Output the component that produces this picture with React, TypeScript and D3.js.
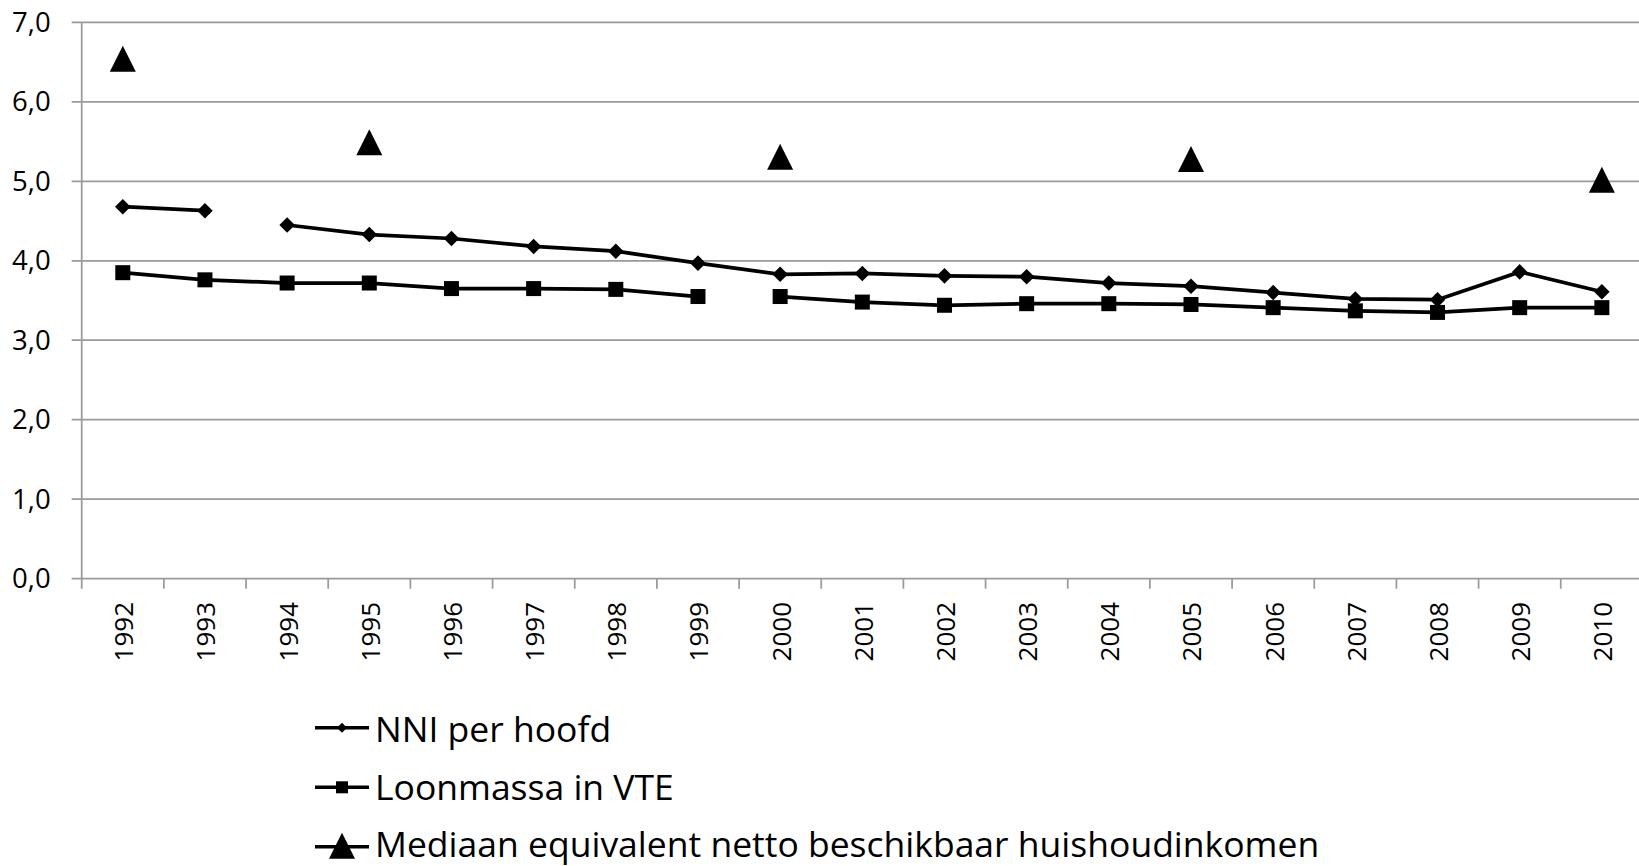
import React from "react";
import * as d3 from "d3";

const width = 1639;
const height = 866;

// chart values
const years = [
  "1992", "1993", "1994", "1995", "1996", "1997", "1998", "1999", "2000", "2001",
  "2002", "2003", "2004", "2005", "2006", "2007", "2008", "2009", "2010",
];
const nniValues = [
  4.68, 4.63, 4.45, 4.33, 4.28, 4.18, 4.12, 3.97, 3.83, 3.84,
  3.81, 3.80, 3.72, 3.68, 3.60, 3.52, 3.51, 3.86, 3.61,
];
const loonValues = [
  3.85, 3.76, 3.72, 3.72, 3.65, 3.65, 3.64, 3.55, 3.55, 3.48,
  3.44, 3.46, 3.46, 3.45, 3.41, 3.37, 3.35, 3.41, 3.41,
];
const mediaanYears = ["1992", "1995", "2000", "2005", "2010"];
const mediaanValues = [6.54, 5.49, 5.31, 5.28, 5.02];
// line is broken after these years
const nniBreaks = ["1993"];
const loonBreaks = ["1999"];
const yTicks = [0, 1, 2, 3, 4, 5, 6, 7];
const legendLabels = [
  "NNI per hoofd",
  "Loonmassa in VTE",
  "Mediaan equivalent netto beschikbaar huishoudinkomen",
];

const font = "'Open Sans', sans-serif";
const left = 81.7;
const band = 82.17;

const x = d3
  .scaleBand<string>()
  .domain(years)
  .range([left, left + band * years.length]);
const y = d3.scaleLinear().domain([0, 7]).range([578.7, 22.3]);
const cx = (yr: string) => (x(yr) as number) + x.bandwidth() / 2;

type Pt = { yr: string; v: number };

function segments(values: number[], breaks: string[]) {
  const segs: Pt[][] = [[]];
  years.forEach((yr, i) => {
    segs[segs.length - 1].push({ yr, v: values[i] });
    if (breaks.includes(yr)) segs.push([]);
  });
  return segs;
}

const line = d3
  .line<Pt>()
  .x((d) => cx(d.yr))
  .y((d) => y(d.v));

const tri = (px: number, py: number, s: number) =>
  `M${px},${py - s / 2}L${px + s / 2},${py + s / 2}L${px - s / 2},${py + s / 2}Z`;

const Diamond = ({ px, py, s }: { px: number; py: number; s: number }) => (
  <rect
    x={px - s / 2}
    y={py - s / 2}
    width={s}
    height={s}
    fill="#000"
    transform={`rotate(45 ${px} ${py})`}
  />
);

const Square = ({ px, py, s }: { px: number; py: number; s: number }) => (
  <rect x={px - s / 2} y={py - s / 2} width={s} height={s} fill="#000" />
);

export default function App() {
  const nniSegs = segments(nniValues, nniBreaks);
  const loonSegs = segments(loonValues, loonBreaks);
  const axisY = y(0);
  const legendRows = [727.7, 787.3, 846.7];
  const legendBase = [741.5, 800, 856.5];

  return (
    <svg
      width={width}
      height={height}
      style={{ position: "absolute", left: 0, top: 0, background: "#fff" }}
      fontFamily={font}
    >
      {/* grid */}
      {yTicks.map((t) => (
        <g key={t}>
          <line x1={left - 10} x2={width} y1={y(t)} y2={y(t)} stroke="#9a9a9a" strokeWidth={1.75} />
          <text x={50.7} y={y(t) + 9.7} textAnchor="end" fontSize={27.5} fill="#000">
            {t.toFixed(1).replace(".", ",")}
          </text>
        </g>
      ))}
      <line x1={left} x2={left} y1={y(7)} y2={axisY + 10} stroke="#9a9a9a" strokeWidth={1.75} />
      {years.map((yr) => (
        <g key={yr}>
          <line
            x1={(x(yr) as number) + band}
            x2={(x(yr) as number) + band}
            y1={axisY}
            y2={axisY + 10}
            stroke="#9a9a9a"
            strokeWidth={1.75}
          />
          <text
            transform={`translate(${cx(yr) + 1},602) rotate(-90)`}
            textAnchor="end"
            dy="0.36em"
            fontSize={26}
            fill="#000"
          >
            {yr}
          </text>
        </g>
      ))}

      {/* series */}
      {nniSegs.map((s, i) => (
        <path key={"n" + i} d={line(s) || ""} fill="none" stroke="#000" strokeWidth={3.75} />
      ))}
      {loonSegs.map((s, i) => (
        <path key={"l" + i} d={line(s) || ""} fill="none" stroke="#000" strokeWidth={3.75} />
      ))}
      {years.map((yr, i) => (
        <Diamond key={"nd" + yr} px={cx(yr)} py={y(nniValues[i])} s={11} />
      ))}
      {years.map((yr, i) => (
        <Square key={"ls" + yr} px={cx(yr)} py={y(loonValues[i])} s={15} />
      ))}
      {mediaanYears.map((yr, i) => (
        <path key={"m" + yr} d={tri(cx(yr), y(mediaanValues[i]), 26)} fill="#000" />
      ))}

      {/* legend */}
      {legendLabels.map((lab, i) => {
        const ry = legendRows[i];
        return (
          <g key={lab}>
            <line x1={315} x2={369} y1={ry} y2={ry} stroke="#000" strokeWidth={3.5} />
            {i === 0 && <Diamond px={342} py={ry} s={7} />}
            {i === 1 && <Square px={342} py={ry} s={12} />}
            {i === 2 && <path d={tri(342, ry - 1, 26)} fill="#000" />}
            <text x={375} y={legendBase[i]} fontSize={35.5} fill="#000">
              {lab}
            </text>
          </g>
        );
      })}
    </svg>
  );
}
